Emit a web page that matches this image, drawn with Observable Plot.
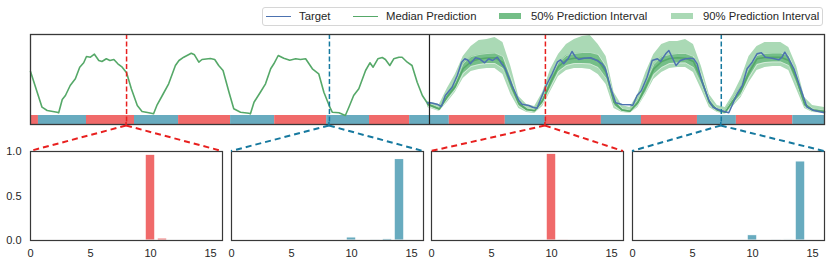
<!DOCTYPE html>
<html><head><meta charset="utf-8">
<script src="https://cdn.jsdelivr.net/npm/d3@7"></script>
<script src="https://cdn.jsdelivr.net/npm/@observablehq/plot@0.6"></script>
<style>
body{margin:0;background:#fff;font-family:"Liberation Sans",Arial,sans-serif;}
#root{position:relative;width:831px;height:266px;overflow:hidden;background:#fff;}
#root svg{position:absolute;}
.legend{position:absolute;left:262px;top:7px;width:561px;height:19px;border:1px solid #d6d6d6;border-radius:3px;background:#fff;box-sizing:border-box;}
.li{position:absolute;top:0;height:17px;line-height:17px;font-size:11.3px;color:#262626;white-space:nowrap;}
.sw{position:absolute;}
</style></head><body><div id="root"></div>
<script>
// ---------- data ----------
// context (history) median line: time (hours) and value
const ctxT = [0,2.9,4.2,6.7,7.1,8,8.8,10,11.3,12.4,13.4,14.1,15.1,16.1,17.2,18,19.1,20,21,22,23.1,24.2,25.4,26.9,28.1,29.8,31,31.9,33.2,34.8,36.5,37.4,38.6,40.5,41.3,42.4,43.2,45.3,46.4,47.4,48.5,50,51.2,52.9,55,55.4,56.3,57.9,59.2,60.5,61.3,62.4,63.8,65.3,66.8,68,69.3,71,72.6,73.9,75.4,76,77.7,79.3,80.2,81.4,82.7,84.4,85.5,86.3,87.5,88.6,89.4,90.5,91.5,92.8,93.6,94.9,96.1,97.4,98.7,99.9];
const ctxV = [53,17.3,14,12.3,11.7,25,29,39,45.7,57.3,61.7,68,67.3,70.3,64,63,65.7,64,65,60.7,57.3,51.7,35.7,19,13,11.7,10.7,19.7,29,40.7,59,64,67.3,71.3,69.7,62.3,65,66,65,59,54,32.3,15.7,12.3,11.3,10.7,22.3,32.3,40.7,55.7,60.7,69,66.3,64.3,65.7,65,65.7,55.7,50.7,32.3,17.3,12.3,11.7,9,17.3,29,35.7,54,61.7,57.3,65.7,67,65,59,65.7,67.3,67.3,62.3,59,42.3,29,21.7];
// prediction window
const predT  = [100,103,105,107,109,111,113,115,117,119,121,123,125,127,129,131,133,135,137,139,141,143,145,147,149,151,153,155,157,159,161,163,165,167,169,171,173,175,177,179,181,183,185,187,189,191,193,195,197,200];
const predMed= [20.5,15.5,28,38,56,63,65.5,66.5,66.7,62,40,21,15,13.7,24,42,58,64.7,66.3,66.5,66.3,64,52,22,14.5,13.2,22,38,55.7,63,66,66.7,66.3,63,45,22,14.5,12.2,24,34,52,65.7,67,67.3,67.3,64,45,20,14.5,13];
const hi90   = [23,20,36,50,68,78,84,85,87,82,58,28,20,18,32,55,70,80,85,88,89,80,68,32,19,17,30,52,70,80,83,83,85,80,58,30,19,17,30,46,68,78,82,82,82,77,58,27,19,17];
const lo90   = [17,13,22,32,46,53,55,56,56,50,30,16,12,11,18,33,48,54,56,56,55,50,40,16,12,11,17,30,45,52,56,57,57,52,35,17,12,10,18,27,42,54,57,58,58,54,35,16,12,11];
const hi50   = [21.5,17,31,42,61,68,70,71,71.5,68,47,23,16.5,15,27,47,62,69,71,72,72,70,58,25,16,14.5,25,43,60,68,70,71,71,68,50,25,16,14,26,38,57,69,71,71.5,71.5,69,50,22.5,16,14.5];
const lo50   = [18.5,14,25,35,51,58,60,61,61,56,35,18.5,13.5,12.5,21,37,53,59,61,61,60.5,57,46,19,13,12,19.5,33,50,57,61,61.5,61.5,57,40,19.5,13,11,21,30,47,60,62,62.5,62.5,59,40,18,13,11.5];
// target in prediction window
const targetT = [100,100.8,102.4,103.5,104.5,106.2,107.5,108.6,109.4,110.2,110.8,112.1,113.1,114.4,115.4,116.4,117.6,118.4,119.6,121.3,123,123.8,125.5,126.5,127.6,128.7,129.9,131.4,132.7,133.5,134.3,135.4,136.4,137.3,138.1,139.4,141.1,142.7,144,144.8,146.1,147.4,149,151.1,151.7,152.8,153.9,155.3,156.6,157.9,158.7,160,160.8,161.6,162.6,163.7,165,166.2,167.1,167.9,169.2,170.9,171.9,173.8,175.9,176.9,178,179.3,180.5,181.8,183,184.1,185.1,186.8,188.5,189.3,190,191,192.3,194,195.6,197.3,200];
const targetV = [21.5,21.7,20.3,18,29,37.3,49,62.3,65.7,64.3,60.7,66.7,65.7,61.7,65.7,64,67.3,62.3,55.7,39,24,20.3,19,17.3,16.3,27.3,39,50.7,62.3,64.7,60.7,65.7,73,67.3,65,66.3,66.7,64,60.7,55.7,37.3,21.7,20,19.7,19,29,34,47.3,64,65.7,63,70.7,74,67.3,59,64,65.7,66.3,65.7,60.7,42.3,24,17.3,14,11.7,20.7,30.7,39,55.7,62.3,70.7,71.7,67.3,66.3,64.7,67.3,72.3,65.7,55.7,35.7,17.3,14,11.7];
// regime strip
const segStart = [0,2,14.1,26.2,37.3,50.4,61.5,74.6,85.4,95.5,105.5,119.6,129.7,143.8,153.9,168,177.8,192];
const segEnd   = [2,14.1,26.2,37.3,50.4,61.5,74.6,85.4,95.5,105.5,119.6,129.7,143.8,153.9,168,177.8,192,200];
const segClass = ["A","B","A","B","A","B","A","B","A","B","A","B","A","B","A","B","A","B"];
const contextEnd = 100.5;
// zoom markers and their class probability histograms
const markerT = [24.2, 75.3, 129.7, 174];
const markerClass = ["A","B","A","B"];
const classIdx = d3.range(16);
const probs = [
  [0,0,0,0,0,0,0,0,0,0,0.963,0.022,0,0,0,0],
  [0,0,0,0,0,0,0,0,0,0,0.034,0.006,0.003,0.018,0.915,0],
  [0,0,0,0,0,0,0,0,0,0,0.974,0.004,0,0,0,0],
  [0,0,0,0,0,0,0,0,0,0,0.06,0.006,0.004,0.012,0.888,0]
];
const xTicks = [0,5,10,15];
const yTicks = [0,0.5,1];
const legendLabels = ["Target","Median Prediction","50% Prediction Interval","90% Prediction Interval"];

// ---------- styles ----------
const stripColor = {A:"#f06a6a", B:"#68abbf"};
const dashColor = {A:"#e8201f", B:"#16799f"};
const C = {target:"#4c72b0", median:"#55a868", band50:"#74be87", band90:"#aad9b5", frame:"#383838", text:"#262626"};
const panelLeft = [30, 231, 431, 632];
const panelW = 192, panelTop = 151, panelH = 89;

// ---------- build tables ----------
const segments = segStart.map((s,i)=>({s, e:segEnd[i], c:segClass[i]}));
const median = ctxT.map((t,i)=>({t, v:ctxV[i]})).concat(predT.map((t,i)=>({t, v:predMed[i]})));
const pred = predT.map((t,i)=>({t, lo90:lo90[i], hi90:hi90[i], lo50:lo50[i], hi50:hi50[i]}));
const target = targetT.map((t,i)=>({t, v:targetV[i]}));
const markers = markerT.map((t,i)=>({t, c:markerClass[i]}));

const root = document.getElementById("root");

const topPlot = Plot.plot({
  width: 831, height: 130,
  marginLeft: 30, marginRight: 7, marginTop: 34, marginBottom: 6,
  x: {domain: [0, 200], axis: null},
  y: {domain: [0, 90], axis: null},
  color: {type: "identity"},
  style: {background: "none", overflow: "visible"},
  marks: [
    Plot.rect(segments, {x1: "s", x2: "e", y1: 0, y2: 9, fill: d => stripColor[d.c]}),
    Plot.areaY(pred, {x: "t", y1: "lo90", y2: "hi90", fill: C.band90}),
    Plot.areaY(pred, {x: "t", y1: "lo50", y2: "hi50", fill: C.band50}),
    Plot.line(pred, {x: "t", y: "hi50", stroke: "#ffffff", strokeOpacity: 0.55, strokeWidth: 0.9}),
    Plot.line(pred, {x: "t", y: "lo50", stroke: "#ffffff", strokeOpacity: 0.55, strokeWidth: 0.9}),
    Plot.line(median, {x: "t", y: "v", stroke: C.median, strokeWidth: 1.6}),
    Plot.line(target, {x: "t", y: "v", stroke: C.target, strokeWidth: 1.5}),
    Plot.ruleX([contextEnd], {stroke: "#222", strokeWidth: 1.2}),
    Plot.ruleX(markers, {x: "t", stroke: d => dashColor[d.c], strokeWidth: 1.5, strokeDasharray: "5,2.5"}),
    Plot.frame({stroke: C.frame, strokeWidth: 1.3})
  ]
});
topPlot.style.left = "0px"; topPlot.style.top = "0px";
root.appendChild(topPlot);

probs.forEach((p, k) => {
  const bars = classIdx.map(i => ({k: i, p: p[i]}));
  const col = stripColor[markerClass[k]];
  const pl = Plot.plot({
    width: 30 + panelW + 12, height: 6 + panelH + 22,
    marginLeft: 30, marginRight: 12, marginTop: 6, marginBottom: 22,
    x: {domain: [0, 16], ticks: xTicks, tickSize: 0, tickPadding: 9},
    y: {domain: [0, 1], ticks: yTicks, tickSize: 0, tickPadding: 9, tickFormat: d3.format(".1f"), axis: k === 0 ? "left" : null},
    style: {background: "none", overflow: "visible", fontSize: "11px", fontFamily: "Liberation Sans, Arial, sans-serif", color: C.text},
    marks: [
      Plot.rectY(bars, {x1: d => d.k - 0.4, x2: d => d.k + 0.4, y: "p", fill: col, stroke: "#fff", strokeWidth: 1}),
      Plot.frame({stroke: C.frame, strokeWidth: 1.2})
    ]
  });
  pl.querySelectorAll("[aria-label='x-axis label'], [aria-label='y-axis label']").forEach(n => n.remove());
  pl.style.left = (panelLeft[k] - 30) + "px";
  pl.style.top = (panelTop - 6) + "px";
  root.appendChild(pl);
});

// connectors from markers to the zoom panels
const xs = topPlot.scale("x");
const ov = d3.create("svg").attr("width", 831).attr("height", 266).style("left","0px").style("top","0px").style("pointer-events","none");
markers.forEach((m, k) => {
  const xa = xs.apply(m.t);
  const apexY = 125.5;
  const g = ov.append("g").attr("stroke", dashColor[m.c]).attr("fill", "none");
  g.append("line").attr("x1", xa).attr("x2", xa).attr("y1", 122).attr("y2", apexY).attr("stroke-width", 1.5);
  [panelLeft[k], panelLeft[k] + panelW].forEach(px => {
    g.append("line").attr("x1", xa).attr("y1", apexY).attr("x2", px).attr("y2", panelTop)
      .attr("stroke-width", 2).attr("stroke-dasharray", "6,4");
  });
});
root.appendChild(ov.node());

// legend
const lg = document.createElement("div");
lg.className = "legend";
const items = [
  {kind: "line", color: C.target, sx: 3, tx: 36},
  {kind: "line", color: C.median, sx: 90, tx: 123},
  {kind: "patch", color: C.band50, sx: 236, tx: 268},
  {kind: "patch", color: C.band90, sx: 408, tx: 440}
];
items.forEach((it, i) => {
  const sw = document.createElement("div");
  sw.className = "sw";
  sw.style.left = it.sx + "px";
  sw.style.width = "25px";
  sw.style.background = it.color;
  if (it.kind === "line") { sw.style.top = "7.7px"; sw.style.height = "1.5px"; }
  else { sw.style.top = "4.7px"; sw.style.height = "6.5px"; sw.style.width = "22px"; }
  lg.appendChild(sw);
  const tx = document.createElement("div");
  tx.className = "li";
  tx.style.left = it.tx + "px";
  tx.textContent = legendLabels[i];
  lg.appendChild(tx);
});
root.appendChild(lg);
</script></body></html>
